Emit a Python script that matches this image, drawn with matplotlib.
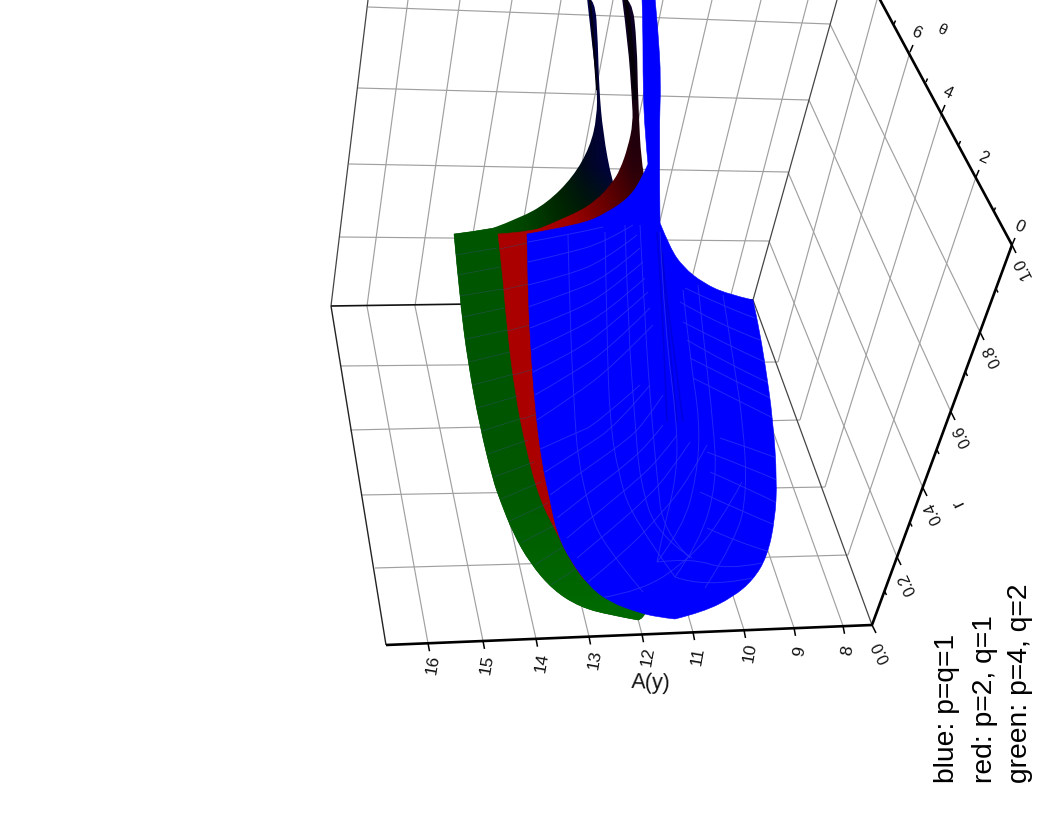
import numpy as np
import matplotlib
matplotlib.use("Agg")
import matplotlib.pyplot as plt
from matplotlib.path import Path
from matplotlib.patches import PathPatch

plt.rcParams['font.family'] = ['Liberation Sans', 'DejaVu Sans']

# ---- axis values and tick labels ----
a_ticks = ['16', '15', '14', '13', '12', '11', '10', '9', '8']
r_ticks = ['0.0', '0.2', '0.4', '0.6', '0.8', '1.0']
t_ticks = ['0', '2', '4', '6']
legend_lines = ['blue: p=q=1', 'red: p=2, q=1', 'green: p=4, q=2']

# ---- projected box (pixel positions) ----
a_bottom_x = [428, 483, 536, 589, 642, 693, 744, 794, 843]
a_mid_x = [367, 415, 461, 509, 555, 600, 640, 685, 728]
a_top_x = [408, 460, 512, 561, 613, 663, 712, 761, 808]
wall_left = [(340, 366), (350, 430), (361, 495), (375, 568)]
wall_right = [(778, 362), (800, 420), (825, 487), (848, 555)]
back_left = [(340, 237), (349, 164), (358, 88), (368, 7)]
back_right = [(769, 241), (788, 172), (809, 100), (830, 24)]
r_axis_pts = [(872, 625), (897, 557), (923, 488), (951, 412), (980, 332), (1012, 245)]
t_axis_pts = [(1012, 245), (976, 177), (942, 112), (910, 52), (878, -4)]
r_label_pos = [(881, 652), (907, 584), (933, 513), (962, 436), (992, 356), (1023, 268)]
t_label_pos = [(1019, 227), (983, 158), (948, 93), (916, 33)]
a_label_pos = [(433, 665), (487, 665), (542, 663), (595, 660), (648, 657), (698, 656), (750, 653), (800, 651), (848, 650)]

# ---- surface outlines (pixel positions) ----
blue_runs = [
    [(527, 234), (528, 287), (530, 337), (535, 407), (542, 463), (550, 500), (557, 533), (570, 560), (590, 587), (610, 602), (637, 612), (657, 617), (675, 619)],
    [(675, 619), (703, 612), (733, 597), (753, 580), (767, 557), (775, 520), (777, 480), (773, 420), (765, 363), (758, 323), (753, 300)],
    [(753, 300), (727, 294), (703, 283), (683, 267), (670, 248), (660, 223)],
    [(660, 223), (659, 133), (661, 80), (658, 30), (655, -2)],
    [(655, -2), (642, -2)],
    [(642, -2), (643, 27), (643, 87), (645, 133), (648, 164)],
    [(648, 164), (642, 178), (630, 197), (607, 213), (580, 225), (527, 234)],
]
red_runs = [
    [(498, 234), (502, 267), (507, 327), (515, 393), (527, 453), (540, 500), (557, 533), (570, 560), (590, 588), (620, 605)],
    [(620, 605), (655, 500), (650, 250), (610, 195)],
    [(610, 195), (573, 218), (533, 232), (498, 234)],
]
green_runs = [
    [(454, 234), (460, 300), (468, 363), (480, 427), (493, 480), (500, 500), (513, 533), (530, 563), (553, 590), (580, 607), (610, 615), (638, 620)],
    [(638, 620), (660, 616), (650, 300), (612, 200)],
    [(612, 200), (560, 212), (520, 222), (493, 229), (454, 234)],
]
green_dark_runs = [
    [(493, 228), (520, 218), (547, 203), (573, 177), (590, 147), (597, 117), (597, 87), (592, 43), (587, -2)],
    [(587, -2), (595, -2), (598, 43), (599, 87), (603, 133), (612, 182), (630, 240), (500, 240), (493, 228)],
]
red_dark_runs = [
    [(533, 231), (573, 215), (597, 200), (612, 183), (620, 170), (628, 147), (633, 123), (632, 100), (628, 43), (622, -2)],
    [(622, -2), (632, -2), (637, 43), (638, 100), (642, 176), (660, 240), (540, 240), (533, 231)],
]
green_base_colors = [[(0, 85, 0)], [(0, 85, 0)], [(0, 88, 0)], [(0, 105, 0)]]
green_colors = [
    [(0, 0, 70), (0, 0, 70), (0, 0, 70), (0, 0, 70), (0, 0, 70)],
    [(0, 0, 60), (0, 0, 60), (0, 0, 60), (0, 0, 60), (0, 0, 70)],
    [(0, 30, 0), (0, 28, 0), (0, 22, 0), (0, 5, 40), (0, 0, 70)],
    [(0, 85, 0), (0, 70, 0), (0, 32, 0), (0, 8, 30), (0, 0, 70)],
    [(0, 85, 0), (0, 68, 0), (0, 45, 0), (0, 30, 0), (0, 20, 10)],
]
red_colors = [
    [(15, 0, 40), (15, 0, 40), (15, 0, 40), (15, 0, 40)],
    [(60, 0, 10), (40, 0, 10), (20, 0, 25), (10, 0, 30)],
    [(150, 0, 0), (110, 0, 0), (60, 0, 0), (25, 0, 15)],
    [(170, 0, 0), (130, 0, 0), (90, 0, 0), (40, 0, 10)],
    [(170, 0, 0), (160, 0, 0), (120, 0, 0), (80, 0, 0)],
]

# ---- mesh lines on the blue surface (pixel positions) ----
mesh_long = [
    [(568, 235), (570, 325), (575, 421), (578, 458), (588, 505), (603, 545), (643, 592)],
    [(605, 232), (607, 342), (610, 422), (618, 472), (632, 518), (675, 577)],
    [(625, 225), (628, 325), (635, 422), (640, 482), (657, 535), (692, 558)],
    [(640, 225), (645, 325), (652, 422), (657, 475), (663, 532), (690, 558)],
    [(660, 232), (665, 330), (677, 422), (677, 475), (663, 532), (657, 562)],
    [(683, 290), (690, 358), (700, 422), (697, 475), (683, 528), (657, 562)],
    [(698, 285), (705, 352), (713, 422), (717, 482), (700, 542), (675, 577)],
    [(723, 295), (733, 358), (743, 422), (747, 492), (737, 538), (705, 588)],
]
mesh_cross = [
    [(528, 242), (568, 235), (603, 227)],
    [(528, 262), (568, 253), (605, 242), (633, 225)],
    [(528, 285), (568, 275), (605, 260), (637, 235)],
    [(528, 307), (568, 293), (607, 277), (640, 248)],
    [(530, 328), (570, 313), (607, 293), (643, 262)],
    [(532, 350), (570, 332), (607, 312), (645, 278)],
    [(533, 372), (572, 353), (608, 328), (648, 292)],
    [(535, 395), (573, 373), (610, 348), (650, 308)],
    [(537, 420), (575, 395), (612, 367), (653, 325)],
    [(538, 450), (578, 432), (595, 425), (640, 385)],
    [(545, 472), (583, 448), (617, 425), (650, 385)],
    [(550, 495), (587, 468), (623, 443), (643, 425), (663, 395)],
    [(557, 518), (595, 488), (628, 463), (650, 442), (663, 425)],
    [(567, 538), (603, 508), (635, 482), (660, 458), (677, 435)],
    [(577, 558), (613, 528), (647, 498), (670, 472), (690, 442)],
    [(588, 582), (627, 550), (660, 515), (687, 482), (707, 445)],
    [(600, 598), (643, 591), (690, 558), (720, 522), (742, 482)],
    [(685, 288), (727, 308), (755, 318)],
    [(680, 302), (720, 325), (760, 340)],
    [(683, 322), (727, 345), (765, 362)],
    [(687, 340), (730, 365), (767, 382)],
    [(690, 358), (733, 380), (770, 398)],
    [(693, 378), (737, 400), (773, 418)],
    [(720, 438), (747, 447), (777, 458)],
    [(707, 452), (747, 467), (777, 480)],
    [(710, 472), (747, 488), (777, 503)],
    [(700, 492), (743, 512), (775, 525)],
    [(707, 528), (737, 542), (770, 552)],
    [(657, 562), (692, 558), (727, 570), (762, 563)],
    [(675, 577), (705, 588), (752, 578)],
]
valley_lines = [
    [(660, 232), (663, 282), (668, 325), (677, 422)],
    [(662, 252), (667, 302), (672, 335), (683, 422)],
    [(657, 232), (660, 275), (663, 325), (667, 422)],
]
strip_left = [
    [(456, 255), (497, 248)], [(458, 275), (500, 267)], [(460, 296), (502, 289)],
    [(463, 317), (504, 308)], [(466, 339), (507, 330)], [(469, 362), (510, 352)],
    [(473, 385), (514, 374)], [(477, 408), (518, 396)], [(482, 431), (523, 418)],
    [(488, 454), (528, 440)], [(494, 477), (534, 462)], [(501, 499), (541, 482)],
    [(510, 521), (548, 503)], [(521, 543), (557, 524)], [(535, 565), (566, 545)],
    [(551, 585), (580, 566)], [(500, 249), (527, 243)], [(502, 290), (528, 284)],
    [(507, 331), (530, 325)], [(514, 375), (534, 369)], [(523, 419), (539, 413)],
]

W, H = 1058, 817
fig = plt.figure(figsize=(W / 100, H / 100), dpi=100, facecolor='white')
ax = fig.add_axes([0, 0, 1, 1])
ax.set_xlim(0, W)
ax.set_ylim(H, 0)
ax.axis('off')


def smooth(runs):
    verts, codes = [], []
    for n, run in enumerate(runs):
        p = [np.array(q, float) for q in run]
        verts.append(p[0])
        codes.append(Path.MOVETO if n == 0 else Path.LINETO)
        if len(p) == 2:
            verts.append(p[1]); codes.append(Path.LINETO)
            continue
        for i in range(1, len(p) - 1):
            end = p[i + 1] if i == len(p) - 2 else (p[i] + p[i + 1]) / 2
            verts += [p[i], end]
            codes += [Path.CURVE3, Path.CURVE3]
    verts.append(verts[0]); codes.append(Path.CLOSEPOLY)
    return Path(verts, codes)


def line(p, q, color='#a0a0a0', lw=0.85, z=1):
    ax.plot([p[0], q[0]], [p[1], q[1]], color=color, lw=lw, zorder=z, solid_capstyle='butt')


def curve(pts, color, lw, z, alpha=1.0, clip=None):
    v = [pts[0]]
    c = [Path.MOVETO]
    p = [np.array(q, float) for q in pts]
    for i in range(1, len(p) - 1):
        end = p[i + 1] if i == len(p) - 2 else (p[i] + p[i + 1]) / 2
        v += [p[i], end]
        c += [Path.CURVE3, Path.CURVE3]
    if len(p) == 2:
        v.append(p[1]); c.append(Path.LINETO)
    patch = PathPatch(Path(v, c), fill=False, edgecolor=color, lw=lw, zorder=z, alpha=alpha)
    ax.add_patch(patch)
    if clip is not None:
        patch.set_clip_path(clip)


# grid on the walls and the floor
corner_back = (331, 306)
corner_front = (386, 645)
corner_right = r_axis_pts[0]
corner_in = (753, 300)
for bx, mx, tx in zip(a_bottom_x, a_mid_x, a_top_x):
    by = 645 - 0.042 * (bx - 386)
    line((bx, by), (mx, 306))
    line((mx, 306), (tx, 0))
for p, q in zip(wall_left, wall_right):
    line(p, q)
for p, q in zip(back_left, back_right):
    line(p, q)
for p, q in zip(wall_right[::-1], t_axis_pts[1:]):
    line(p, q)
for p, q in zip(back_right, r_axis_pts[1:5]):
    line(p, q)

# box edges
line(corner_back, (368, 0), '#444444', 0.9, 2)
line(corner_back, corner_in, '#111111', 1.2, 2)
line(corner_in, (837, 0), '#444444', 0.9, 2)
line(corner_in, corner_right, '#444444', 0.9, 2)
line(corner_back, corner_front, '#222222', 1.0, 2)
line(corner_front, corner_right, 'black', 1.9, 3)
line(corner_right, r_axis_pts[-1], 'black', 1.9, 3)
line(t_axis_pts[0], t_axis_pts[-1], 'black', 1.9, 3)

# ticks
for bx in a_bottom_x:
    by = 645 - 0.042 * (bx - 386)
    line((bx, by), (bx + 1.5, by + 8), 'black', 1.1, 3)
for p in r_axis_pts:
    line(p, (p[0] + 4, p[1] + 8), 'black', 1.1, 3)
for p, q in zip(r_axis_pts[:-1], r_axis_pts[1:]):
    m = ((p[0] + q[0]) / 2, (p[1] + q[1]) / 2)
    line(m, (m[0] + 2, m[1] + 4), 'black', 1.1, 3)
for p in t_axis_pts[:-1]:
    line(p, (p[0] + 3, p[1] - 7), 'black', 1.1, 3)
line(t_axis_pts[0], (t_axis_pts[0][0] - 2, t_axis_pts[0][1] + 5), 'black', 1.1, 3)
for p, q in zip(t_axis_pts[:-1], t_axis_pts[1:]):
    m = ((p[0] + q[0]) / 2, (p[1] + q[1]) / 2)
    line(m, (m[0] + 1.5, m[1] - 3.5), 'black', 1.1, 3)


def surface(runs, color, z):
    patch = PathPatch(smooth(runs), facecolor=color, edgecolor=color, lw=0.4, zorder=z)
    ax.add_patch(patch)
    return patch


def gradient(runs, colors, extent, z):
    img = ax.imshow(np.array(colors, dtype=float) / 255, extent=extent, origin='upper',
                    interpolation='bilinear', aspect='auto', zorder=z)
    patch = PathPatch(smooth(runs), transform=ax.transData, facecolor='none', edgecolor='none')
    ax.add_patch(patch)
    img.set_clip_path(patch)


# green surface
surface(green_runs, '#005500', 5)
gradient(green_runs, green_base_colors, (440, 680, 660, 200), 5.05)
gradient(green_dark_runs, green_colors, (480, 630, 250, -30), 5.1)
curve([(590, 0), (594, 43), (597, 90)], '#000010', 1.5, 5.2)
# red surface
surface(red_runs, '#aa0000', 6)
gradient(red_dark_runs, red_colors, (520, 650, 250, -30), 6.1)
curve([(626, 0), (632, 43), (635, 100)], '#050008', 3.0, 6.2)
# blue surface
blue_patch = surface(blue_runs, '#0000ff', 7)
for ln in valley_lines:
    curve(ln, '#0000b8', 1.2, 7.2, 0.45, blue_patch)
for ln in mesh_long + mesh_cross:
    curve(ln, '#2a30f5', 0.7, 7.3, 0.8, blue_patch)
for ln in strip_left:
    curve(ln, '#30506a', 0.6, 6.5, 0.5)

# labels
for s, pos in zip(a_ticks, a_label_pos):
    ax.text(pos[0], pos[1], s, fontsize=12.5, rotation=80, rotation_mode='anchor',
            ha='center', va='center', zorder=10, color='#111111')
for s, pos in zip(r_ticks, r_label_pos):
    ax.text(pos[0], pos[1], s, fontsize=11.5, rotation=116, rotation_mode='anchor',
            ha='center', va='center', zorder=10, color='#111111')
for s, pos in zip(t_ticks, t_label_pos):
    ax.text(pos[0], pos[1], s, fontsize=12, rotation=-25, rotation_mode='anchor',
            ha='center', va='center', zorder=10, color='#111111')
ax.text(651, 683, 'A(y)', fontsize=15.5, rotation=-2, rotation_mode='anchor',
        ha='center', va='center', color='#111111', zorder=10)
ax.text(958, 502, 'r', fontsize=13, rotation=116, rotation_mode='anchor',
        ha='center', va='center', color='#111111', zorder=10)
ax.text(942, 30, 'θ', fontsize=11, rotation=-25, rotation_mode='anchor',
        ha='center', va='center', color='#111111', zorder=10,
        family=['Liberation Sans', 'DejaVu Sans'])

for s, bx in zip(legend_lines, [954, 992, 1027]):
    ax.text(bx, 783, s, fontsize=20.3, rotation=90, rotation_mode='anchor',
            ha='left', va='baseline', color='black', zorder=10)

ax.set_xlim(0, W)
ax.set_ylim(H, 0)
fig.savefig('out.png', dpi=100, facecolor='white')
